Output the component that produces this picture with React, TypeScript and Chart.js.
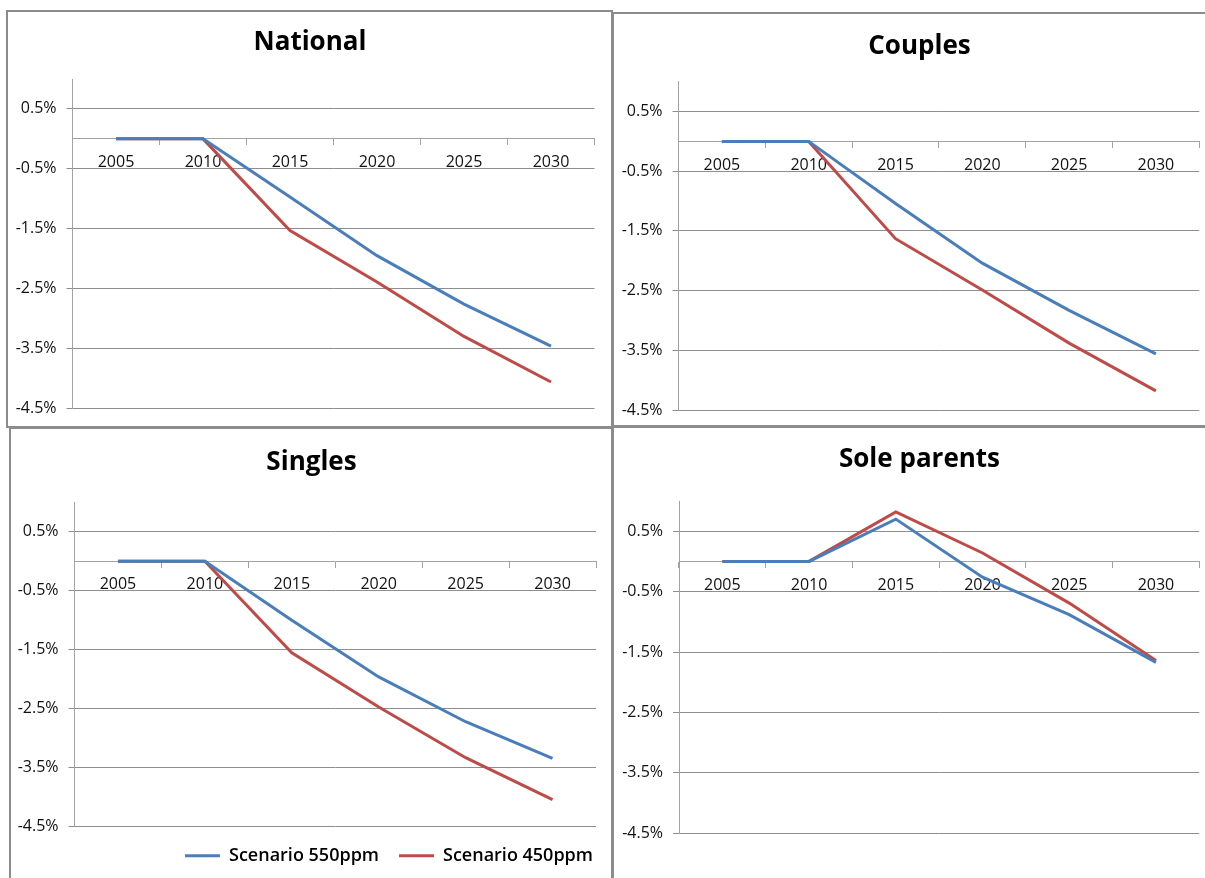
import React, { useEffect, useRef } from 'react';
import { Chart, registerables } from 'chart.js';

Chart.register(...registerables);

// ---------- data ----------
const YEARS = ['2005', '2010', '2015', '2020', '2025', '2030'];
const Y_TICKS = [-4.5, -3.5, -2.5, -1.5, -0.5, 0.5];
const Y_MIN = -4.5;
const Y_MAX = 1.0;
const SERIES_LABELS = ['Scenario 550ppm', 'Scenario 450ppm'];

const NATIONAL_550 = [0, 0, -0.97, -1.95, -2.76, -3.46];
const NATIONAL_450 = [0, 0, -1.53, -2.39, -3.3, -4.06];
const COUPLES_550 = [0, 0, -1.04, -2.04, -2.83, -3.56];
const COUPLES_450 = [0, 0, -1.63, -2.49, -3.38, -4.18];
const SINGLES_550 = [0, 0, -1.0, -1.96, -2.72, -3.34];
const SINGLES_450 = [0, 0, -1.55, -2.47, -3.33, -4.04];
const SOLE_550 = [0, 0, 0.7, -0.26, -0.88, -1.67];
const SOLE_450 = [0, 0, 0.82, 0.14, -0.69, -1.64];

// ---------- style ----------
const BLUE = '#4A7EBB';
const RED = '#BE4B48';
const GRID = '#8e8e8e';
const AXIS = '#a2a2a2';
const FRAME = '#8c8c8c';
const FONT = "'Open Sans', sans-serif";

type Geo = {
  left: number;
  top: number;
  width: number;
  height: number;
  axisL: number;
  axisR: number;
  titleTop: number;
  titleBottom: number;
  padBottom: number;
};

type PanelProps = {
  title: string;
  s550: number[];
  s450: number[];
  geo: Geo;
  legend: boolean;
};

function Panel({ title, s550, s450, geo, legend }: PanelProps) {
  const ref = useRef<HTMLCanvasElement>(null);
  useEffect(() => {
    const canvas = ref.current;
    if (!canvas) return;
    const tickFont = { family: FONT, size: 16 };
    const chart = new Chart(canvas, {
      type: 'line',
      data: {
        labels: YEARS,
        datasets: [
          {
            label: SERIES_LABELS[0],
            data: s550,
            borderColor: BLUE,
            backgroundColor: BLUE,
            borderWidth: 3,
            pointRadius: 0,
            tension: 0,
          },
          {
            label: SERIES_LABELS[1],
            data: s450,
            borderColor: RED,
            backgroundColor: RED,
            borderWidth: 3,
            pointRadius: 0,
            tension: 0,
          },
        ],
      },
      options: {
        responsive: false,
        animation: false,
        events: [],
        devicePixelRatio: 1,
        layout: { padding: { left: 0, right: 0, top: 0, bottom: geo.padBottom } },
        plugins: {
          title: {
            display: true,
            text: title,
            color: '#000',
            font: { family: FONT, size: 26, weight: 'bold', lineHeight: 1.2 },
            padding: { top: geo.titleTop, bottom: geo.titleBottom },
          },
          legend: legend
            ? {
                display: true,
                position: 'bottom',
                align: 'end',
                labels: {
                  usePointStyle: true,
                  pointStyle: 'line',
                  pointStyleWidth: 35,
                  padding: 20,
                  color: '#000',
                  font: { family: FONT, size: 18, weight: '600' },
                },
              }
            : { display: false },
          tooltip: { enabled: false },
        },
        scales: {
          x: {
            type: 'category',
            position: { y: 0 },
            offset: true,
            grid: {
              display: true,
              drawOnChartArea: false,
              drawTicks: true,
              tickLength: 6,
              offset: true,
              color: AXIS,
              lineWidth: 1,
            },
            border: { display: true, color: AXIS, width: 1 },
            ticks: {
              autoSkip: false,
              maxRotation: 0,
              padding: 8,
              color: '#111',
              font: tickFont,
            },
            afterFit: (s: any) => {
              s.height = 0;
            },
          },
          y: {
            type: 'linear',
            position: 'left',
            min: Y_MIN,
            max: Y_MAX,
            afterBuildTicks: (s: any) => {
              s.ticks = Y_TICKS.map((v) => ({ value: v }));
            },
            grid: { color: GRID, lineWidth: 1, drawTicks: true, tickLength: 6 },
            border: { display: true, color: AXIS, width: 1 },
            ticks: {
              padding: 10,
              color: '#111',
              font: tickFont,
              callback: (v: any) => Number(v).toFixed(1) + '%',
            },
            afterFit: (s: any) => {
              s.width = geo.axisL;
            },
          },
          yr: {
            type: 'linear',
            position: 'right',
            display: true,
            ticks: { display: false },
            grid: { display: false },
            border: { display: false },
            afterFit: (s: any) => {
              s.width = geo.axisR;
            },
          },
        },
      } as any,
    });
    return () => chart.destroy();
  }, []);
  return (
    <canvas
      ref={ref}
      width={geo.width}
      height={geo.height}
      style={{
        position: 'absolute',
        left: geo.left,
        top: geo.top,
        width: geo.width,
        height: geo.height,
      }}
    />
  );
}

const GEO_NATIONAL: Geo = { left: 7, top: 10, width: 606, height: 424, axisL: 65.5, axisR: 18.5, titleTop: 17.4, titleBottom: 20.4, padBottom: 25.7 };
const GEO_COUPLES: Geo = { left: 613, top: 12, width: 613, height: 424, axisL: 65.5, axisR: 26.7, titleTop: 19.1, titleBottom: 19.4, padBottom: 26 };
const GEO_SINGLES: Geo = { left: 10, top: 428, width: 603, height: 447, axisL: 64.5, axisR: 17, titleTop: 19.1, titleBottom: 24, padBottom: 0.3 };
const GEO_SOLE: Geo = { left: 613, top: 427, width: 613, height: 440, axisL: 66, axisR: 26.7, titleTop: 17.4, titleBottom: 25.4, padBottom: 33.7 };

const frame = (left: number, top: number, width: number, height: number): React.CSSProperties => ({
  position: 'absolute',
  left,
  top,
  width,
  height,
  boxSizing: 'border-box',
  border: `2px solid ${FRAME}`,
});

export default function App() {
  return (
    <div
      style={{
        position: 'fixed',
        left: 0,
        top: 0,
        width: 1205,
        height: 878,
        overflow: 'hidden',
        background: '#fff',
      }}
    >
      <div style={frame(6, 10, 607, 418)} />
      <div style={frame(612, 12, 700, 415)} />
      <div style={frame(9, 427, 604, 500)} />
      <div style={frame(612, 426, 700, 500)} />
      <Panel title="National" s550={NATIONAL_550} s450={NATIONAL_450} geo={GEO_NATIONAL} legend={false} />
      <Panel title="Couples" s550={COUPLES_550} s450={COUPLES_450} geo={GEO_COUPLES} legend={false} />
      <Panel title="Singles" s550={SINGLES_550} s450={SINGLES_450} geo={GEO_SINGLES} legend={true} />
      <Panel title="Sole parents" s550={SOLE_550} s450={SOLE_450} geo={GEO_SOLE} legend={false} />
    </div>
  );
}
